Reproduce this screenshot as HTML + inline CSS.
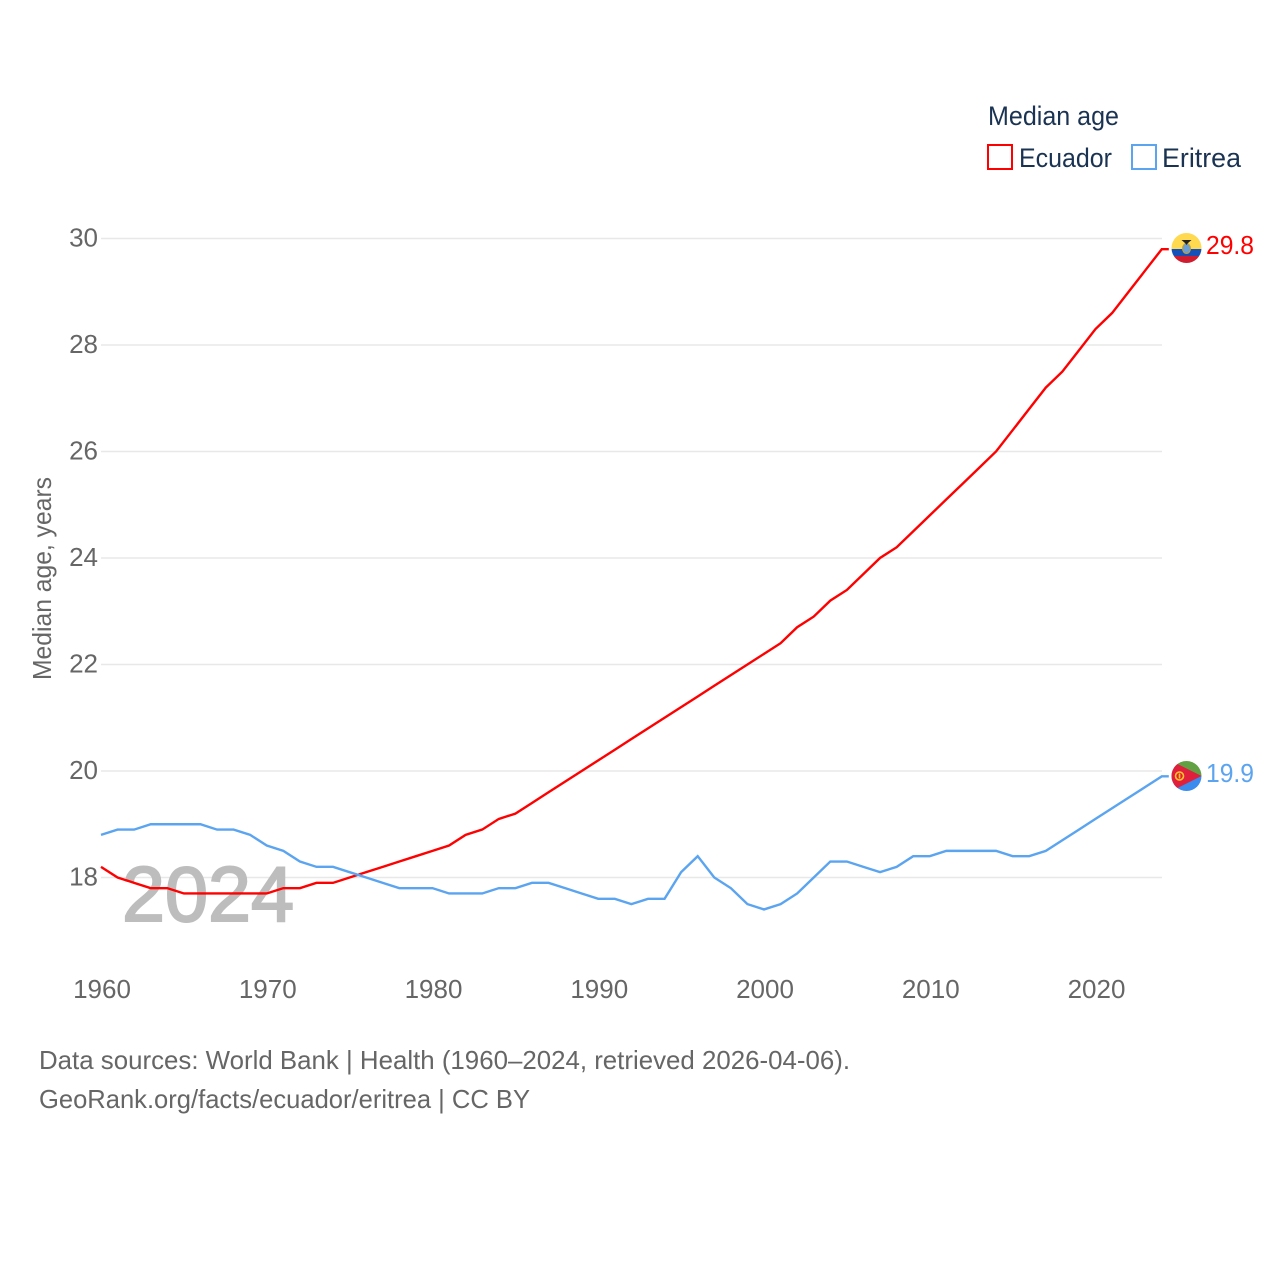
<!DOCTYPE html>
<html lang="en">
<head>
<meta charset="utf-8">
<title>Median age: Ecuador and Eritrea</title>
<style>
html,body{margin:0;padding:0;background:#fff;}
svg{display:block;font-family:"Liberation Sans",Arial,sans-serif;}
</style>
</head>
<body>
<svg id="chart" width="1280" height="1280" viewBox="0 0 1280 1280" xmlns="http://www.w3.org/2000/svg">
  <rect width="1280" height="1280" fill="#fff"/>
  <g id="grid"></g>
  <g id="yticks"></g>
  <g id="xticks"></g>
  <text transform="translate(51,680) rotate(-90)" font-size="26" fill="#666" textLength="203" lengthAdjust="spacingAndGlyphs">Median age, years</text>
  <text x="122" y="921" font-size="78" font-weight="400" fill="#bdbdbd" stroke="#bdbdbd" stroke-width="2" textLength="172" lengthAdjust="spacingAndGlyphs">2024</text>
  <g id="series"></g>

  <g>
    <text x="988" y="125" font-size="27" fill="#1a3352" textLength="131" lengthAdjust="spacingAndGlyphs">Median age</text>
    <g>
      <rect x="988" y="145" width="24" height="24" fill="#fff" stroke="#ff0000" stroke-width="2"/>
      <text x="1019" y="167" font-size="27" fill="#1a3352" textLength="93" lengthAdjust="spacingAndGlyphs">Ecuador</text>
    </g>
    <g>
      <rect x="1132" y="145" width="24" height="24" fill="#fff" stroke="#5ba4f0" stroke-width="2"/>
      <text x="1162" y="167" font-size="27" fill="#1a3352" textLength="79" lengthAdjust="spacingAndGlyphs">Eritrea</text>
    </g>
  </g>

  <defs>
    <clipPath id="clip-ec"><circle cx="1186.5" cy="248" r="15"/></clipPath>
    <clipPath id="clip-er"><circle cx="1186.5" cy="776" r="15"/></clipPath>
  </defs>
  <g clip-path="url(#clip-ec)">
    <rect x="1171" y="233" width="31" height="16" fill="#ffd94f"/>
    <rect x="1171" y="249" width="31" height="7" fill="#1450b8"/>
    <rect x="1171" y="256" width="31" height="7" fill="#d01c2f"/>
    <ellipse cx="1186.5" cy="248.5" rx="4" ry="5" fill="#6a9fd8" stroke="#c9a227" stroke-width="1"/>
    <path d="M1181.5 240 L1191.5 240 L1188 243 L1186.5 245 L1185 243 Z" fill="#222"/>
  </g>
  <text id="end-ec" x="1206" y="254" font-size="26" fill="#ff0000" textLength="48" lengthAdjust="spacingAndGlyphs"></text>
  <g clip-path="url(#clip-er)">
    <rect x="1171" y="761" width="31" height="15" fill="#62a044"/>
    <rect x="1171" y="776" width="31" height="15" fill="#3b8aee"/>
    <path d="M1171.5 761 L1201.5 776 L1171.5 791 Z" fill="#e01f3d"/>
    <circle cx="1179.5" cy="776" r="4" fill="none" stroke="#ffc726" stroke-width="1.6"/>
    <rect x="1178.7" y="773.5" width="1.6" height="5" fill="#ffc726"/>
  </g>
  <text id="end-er" x="1206" y="782" font-size="26" fill="#5ba4f0" textLength="48" lengthAdjust="spacingAndGlyphs"></text>

  <text x="39" y="1069" font-size="26" fill="#666" textLength="811" lengthAdjust="spacingAndGlyphs">Data sources: World Bank | Health (1960–2024, retrieved 2026-04-06).</text>
  <text x="39" y="1108" font-size="26" fill="#666" textLength="491" lengthAdjust="spacingAndGlyphs">GeoRank.org/facts/ecuador/eritrea | CC BY</text>
</svg>
<script>
var startYear = 1960;
var ecuadorValues = [18.2,18.0,17.9,17.8,17.8,17.7,17.7,17.7,17.7,17.7,17.7,17.8,17.8,17.9,17.9,18.0,18.1,18.2,18.3,18.4,18.5,18.6,18.8,18.9,19.1,19.2,19.4,19.6,19.8,20.0,20.2,20.4,20.6,20.8,21.0,21.2,21.4,21.6,21.8,22.0,22.2,22.4,22.7,22.9,23.2,23.4,23.7,24.0,24.2,24.5,24.8,25.1,25.4,25.7,26.0,26.4,26.8,27.2,27.5,27.9,28.3,28.6,29.0,29.4,29.8];
var eritreaValues = [18.8,18.9,18.9,19.0,19.0,19.0,19.0,18.9,18.9,18.8,18.6,18.5,18.3,18.2,18.2,18.1,18.0,17.9,17.8,17.8,17.8,17.7,17.7,17.7,17.8,17.8,17.9,17.9,17.8,17.7,17.6,17.6,17.5,17.6,17.6,18.1,18.4,18.0,17.8,17.5,17.4,17.5,17.7,18.0,18.3,18.3,18.2,18.1,18.2,18.4,18.4,18.5,18.5,18.5,18.5,18.4,18.4,18.5,18.7,18.9,19.1,19.3,19.5,19.7,19.9];
var yTickLabels = [18,20,22,24,26,28,30];
var xTickLabels = [1960,1970,1980,1990,2000,2010,2020];

var NS = 'http://www.w3.org/2000/svg';
function xScale(year){ return 101 + (year - 1960) * (1095.5 - 101) / 60; }
function yScale(v){ return 877.5 - (v - 18) * (877.5 - 238.5) / 12; }
function make(tag, parent){ var el = document.createElementNS(NS, tag); parent.appendChild(el); return el; }

var grid = document.getElementById('grid');
var yticks = document.getElementById('yticks');
yTickLabels.forEach(function(t){
  var l = make('line', grid);
  
  
  l.setAttribute('x1', 101);
  l.setAttribute('x2', 1162);
  l.setAttribute('y1', yScale(t));
  l.setAttribute('y2', yScale(t));
  l.setAttribute('stroke', '#e8e8e8');
  l.setAttribute('stroke-width', 1.5);
  var s = make('text', yticks);
  
  
  s.setAttribute('x', 98);
  s.setAttribute('y', yScale(t) + 8);
  s.setAttribute('text-anchor', 'end');
  s.setAttribute('font-size', 26);
  s.setAttribute('fill', '#666');
  s.textContent = t;
});

var xticks = document.getElementById('xticks');
xTickLabels.forEach(function(t){
  var s = make('text', xticks);
  
  
  s.setAttribute('x', xScale(t) + 1);
  s.setAttribute('y', 998);
  s.setAttribute('text-anchor', 'middle');
  s.setAttribute('font-size', 26);
  s.setAttribute('fill', '#666');
  s.textContent = t;
});

function linePoints(values){
  var pts = values.map(function(v, i){ return xScale(startYear + i).toFixed(2) + ',' + yScale(v).toFixed(2); });
  var last = values[values.length - 1];
  pts.push((xScale(startYear + values.length - 1) + 7).toFixed(2) + ',' + yScale(last).toFixed(2));
  return pts.join(' ');
}
var series = document.getElementById('series');

var ecLine = make('polyline', series);


ecLine.setAttribute('points', linePoints(ecuadorValues));
ecLine.setAttribute('fill', 'none');
ecLine.setAttribute('stroke', '#ff0000');
ecLine.setAttribute('stroke-width', 2.4);

var erLine = make('polyline', series);


erLine.setAttribute('points', linePoints(eritreaValues));
erLine.setAttribute('fill', 'none');
erLine.setAttribute('stroke', '#5ba4f0');
erLine.setAttribute('stroke-width', 2.4);

document.getElementById('end-ec').textContent = ecuadorValues[ecuadorValues.length - 1].toFixed(1);
document.getElementById('end-er').textContent = eritreaValues[eritreaValues.length - 1].toFixed(1);
</script>
</body>
</html>
